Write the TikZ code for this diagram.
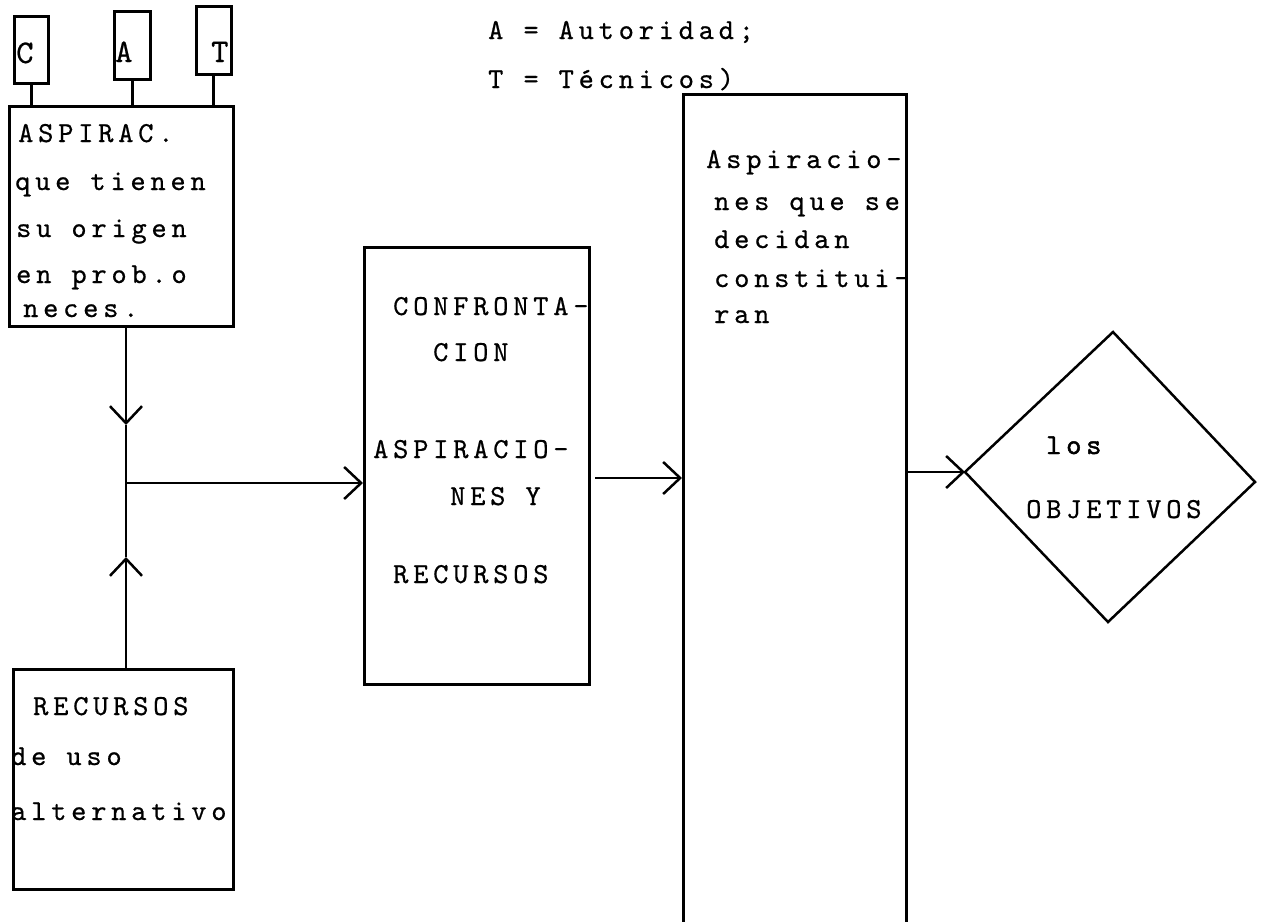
\documentclass[tikz,border=0pt]{standalone}
\usepackage{fontspec}
\newfontfamily\tw{lmmono10-regular.otf}[LetterSpace=16.5,FakeBold=0.6]
\newfontfamily\twb{lmmono10-regular.otf}[LetterSpace=16.5,FakeBold=1.6]
\usetikzlibrary{arrows.meta}
\begin{document}
\begin{tikzpicture}[x=1pt,y=-1pt,
  box/.style={draw, line width=2.5pt, inner sep=0pt, anchor=north west},
  txt/.style={inner sep=0pt, anchor=base west, font=\tw\fontsize{29}{29}\selectfont},
  txtb/.style={inner sep=0pt, anchor=base west, font=\twb\fontsize{29}{29}\selectfont},
  big/.style={inner sep=0pt, anchor=base west, font=\tw\fontsize{33}{33}\selectfont},
  ln/.style={line width=2.8pt},
  arr/.style={line width=2.8pt, -{Straight Barb[length=17pt,width=32pt,line width=2.5pt]}}
]
\useasboundingbox (0,0) rectangle (1261,921);
\clip (0,0) rectangle (1261,921);

% legend
\node[txt] (leg1) at (488,39) {A = Autoridad;};
\node[txt] (leg2) at (488,88) {T = Técnicos)};

% C A T boxes
\node[box, minimum width=34pt, minimum height=67pt] (cbox) at (13,15) {};
\node[box, minimum width=36pt, minimum height=68pt] (abox) at (113,10) {};
\node[box, minimum width=35pt, minimum height=68pt] (tbox) at (195,5) {};
\node[big] (cl) at (16,63) {C};
\node[big] (al) at (115,62) {A};
\node[big] (tl) at (211,62) {T};

% main boxes
\node[box, minimum width=224pt, minimum height=220pt] (asp) at (8,105) {};
\node[box, minimum width=225pt, minimum height=437pt] (conf) at (363,246) {};
\node[box, minimum width=223pt, minimum height=860pt] (aspir) at (682,93) {};
\node[box, minimum width=220pt, minimum height=220pt] (rec) at (12,668) {};

% stubs
\draw[ln] (cbox.south) -- (cbox.south |- asp.north);
\draw[ln] (abox.south) -- (abox.south |- asp.north);
\draw[ln] (tbox.south) -- (tbox.south |- asp.north);

% texts ASPIRAC
\node[txt] (a1) at (18,142) {ASPIRAC.};
\node[txt] (a2) at (15,190) {que tienen};
\node[txt] (a3) at (16,237) {su origen};
\node[txt] (a4) at (16,283) {en prob.o};
\node[txt] (a5) at (23,317) {neces.};

% texts CONFRONTACION
\node[txt] (c1) at (393,315) {CONFRONTA-};
\node[txt] (c2) at (433,361) {CION};
\node[txt] (c3) at (373,458) {ASPIRACIO-};
\node[txt] (c4) at (450,505) {NES Y};
\node[txt] (c5) at (393,583) {RECURSOS};

% texts Aspiraciones
\node[txt] (s1) at (706,168) {Aspiracio-};
\node[txt] (s2t) at (714,210) {nes que se};
\node[txt] (s3t) at (714,248) {decidan};
\node[txt] (s4t) at (714,287) {constitui-};
\node[txt] (s5t) at (714,323) {ran};

% texts RECURSOS
\node[txt] (r1) at (33,715) {RECURSOS};
\node[txt] (r2) at (11,765) {de uso};
\node[txt] (r3) at (11,820) {alternativo};

% diamond
\coordinate (dT) at (1113,332);
\coordinate (dR) at (1255,482);
\coordinate (dB) at (1108,622);
\coordinate (dL) at (965,472);
\draw[line width=2.5pt, line join=miter] (dT) -- (dR) -- (dB) -- (dL) -- cycle;
\node[txtb] (o1) at (1046,454) {los};
\node[txt] (o2) at (1026,518) {OBJETIVOS};

% connectors
\coordinate (junc) at (126,483);
\coordinate (dtip) at (126,425);
\coordinate (utip) at (126,557);
\draw[arr] (dtip |- asp.south) -- (dtip);
\draw[ln] (dtip) -- (junc);
\draw[arr] (utip |- rec.north) -- (utip);
\draw[ln] (utip) -- (junc);
\draw[arr] (junc) -- (junc -| conf.west);
\coordinate (s2) at (595,478);
\draw[arr] (s2) -- (s2 -| aspir.west);
\draw[arr] (aspir.east |- dL) -- (dL);
\end{tikzpicture}
\end{document}
